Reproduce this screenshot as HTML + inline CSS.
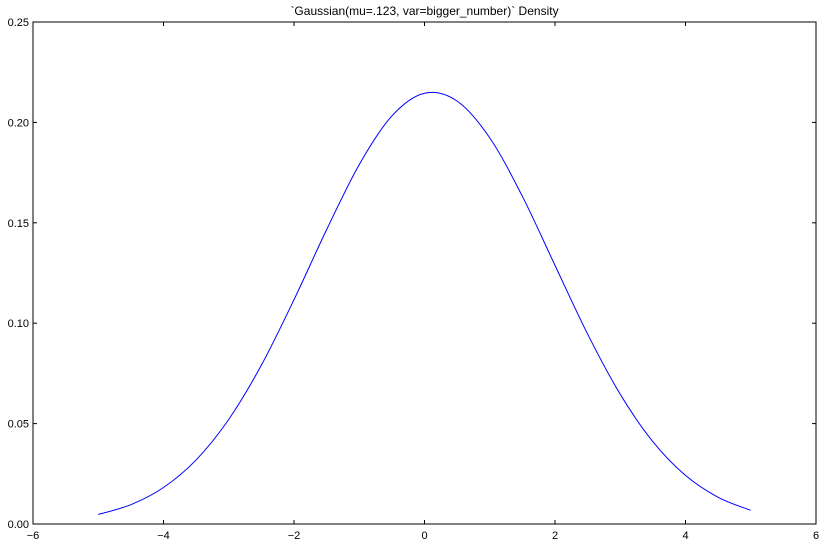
<!DOCTYPE html>
<html><head><meta charset="utf-8">
<style>
body{margin:0;background:#fff;width:825px;height:546px;overflow:hidden;font-family:"Liberation Sans",sans-serif;}
svg text{font-family:"Liberation Sans",sans-serif;font-size:11px;fill:#000;}
</style></head>
<body>
<svg id="chart" width="825" height="546"></svg>
<script>
const xValues = [-5,-4.5,-4,-3.5,-3,-2.5,-2,-1.5,-1,-0.5,0,0.5,1,1.5,2,2.5,3,3.5,4,4.5,5];
const densityValues = [0.00474,0.00963,0.01817,0.0319,0.0521,0.0791,0.1117,0.1466,0.1790,0.2032,0.2145,0.2106,0.1923,0.1632,0.1288,0.0946,0.0646,0.0410,0.0242,0.0133,0.0068];
const xTicks = [-6,-4,-2,0,2,4,6];
const xTickLabels = ["\u22126","\u22124","\u22122","0","2","4","6"];
const yTicks = [0,0.05,0.10,0.15,0.20,0.25];
const yTickLabels = ["0.00","0.05","0.10","0.15","0.20","0.25"];
const titleText = "`Gaussian(mu=.123, var=bigger_number)` Density";

const L=33,R=816,T=22,B=524;
const xs=v=>L+(v-(-6))/12*(R-L);
const ys=v=>B-(v/0.25)*(B-T);
const svg=document.getElementById('chart');
const NS="http://www.w3.org/2000/svg";
function mk(tag,attrs,parent){const e=document.createElementNS(NS,tag);for(const k in attrs)e.setAttribute(k,attrs[k]);(parent||svg).appendChild(e);return e;}

const frame=mk('rect',{x:L,y:T,width:R-L,height:B-T,fill:'#fff',stroke:'#000','stroke-width':1});



// curve (Catmull-Rom to bezier)
const pts=xValues.map((x,i)=>[xs(x),ys(densityValues[i])]);
let d=`M${pts[0][0]},${pts[0][1]}`;
for(let i=0;i<pts.length-1;i++){
  const p0=pts[Math.max(0,i-1)],p1=pts[i],p2=pts[i+1],p3=pts[Math.min(pts.length-1,i+2)];
  const c1=[p1[0]+(p2[0]-p0[0])/6,p1[1]+(p2[1]-p0[1])/6];
  const c2=[p2[0]-(p3[0]-p1[0])/6,p2[1]-(p3[1]-p1[1])/6];
  d+=` C${c1[0]},${c1[1]} ${c2[0]},${c2[1]} ${p2[0]},${p2[1]}`;
}
const line=mk('path',{d:d,fill:'none',stroke:'#0000ff','stroke-width':1});



xTicks.forEach((v,i)=>{
  const x=xs(v);
  mk('line',{x1:x,x2:x,y1:B,y2:B-4,stroke:'#000'});
  mk('line',{x1:x,x2:x,y1:T,y2:T+4,stroke:'#000'});
  const t=mk('text',{x:x,y:B+15,'text-anchor':'middle'});
  t.textContent=xTickLabels[i];
  
  
});
yTicks.forEach((v,i)=>{
  const y=ys(v);
  mk('line',{x1:L,x2:L+4,y1:y,y2:y,stroke:'#000'});
  mk('line',{x1:R,x2:R-4,y1:y,y2:y,stroke:'#000'});
  const t=mk('text',{x:L-4,y:y+4,'text-anchor':'end'});
  t.textContent=yTickLabels[i];
  
  
});
const title=mk('text',{x:(L+R)/2,y:15,'text-anchor':'middle',style:'font-size:12px'});
title.textContent=titleText;


</script>
</body></html>
